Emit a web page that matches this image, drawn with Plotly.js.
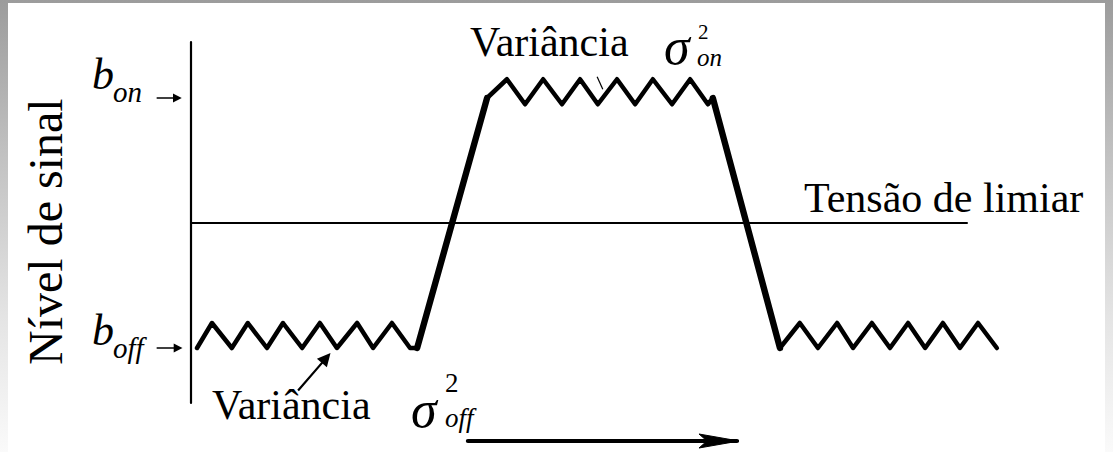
<!DOCTYPE html>
<html>
<head>
<meta charset="utf-8">
<script src="https://cdn.plot.ly/plotly-3.0.1.min.js"></script>
<style>
  html, body { margin: 0; padding: 0; }
  body {
    width: 1113px; height: 452px; overflow: hidden;
    background: linear-gradient(to bottom, #9c9c9c 0%, #c2c2c2 35%, #e4e4e4 70%, #fafafa 100%);
  }
  #chart { width: 1113px; height: 452px; }
</style>
</head>
<body>
<div id="chart"></div>
<script>
// Signal level over time (time in noise periods, level: b_off = 0, b_on = 1)
const lowLeftT   = [0.17, 0.59, 1.15, 1.60, 2.14, 2.59, 3.13, 3.63, 4.11, 4.68, 5.13, 5.66, 6.17, 6.37];
const lowLeftV   = [0, 0.1, 0, 0.1, 0, 0.1, 0, 0.1, 0, 0.1, 0, 0.1, 0, 0];
const riseT      = [6.37, 8.34];
const riseV      = [0, 1.0];
const highT      = [8.34, 8.90, 9.41, 9.92, 10.45, 10.96, 11.46, 12.00, 12.51, 13.01, 13.55, 14.06, 14.56, 14.70];
const highV      = [1.0, 1.075, 0.975, 1.075, 0.975, 1.075, 0.975, 1.075, 0.975, 1.075, 0.975, 1.075, 0.975, 1.0];
const fallT      = [14.70, 16.59];
const fallV      = [1.0, 0];
const lowRightT  = [16.59, 17.15, 17.66, 18.20, 18.65, 19.18, 19.69, 20.20, 20.68, 21.18, 21.66, 22.17, 22.70];
const lowRightV  = [0, 0.1, 0, 0.1, 0, 0.1, 0, 0.1, 0, 0.1, 0, 0.1, 0];

// Reference levels
const bOff = 0;
const bOn = 1;
const threshold = 0.5;
const thresholdEnd = 21.86;

// Level axis (vertical line) extent
const axisT = 0;
const axisLevels = [-0.22, 1.224];

// Time arrow along the bottom
const timeArrowT = [7.8, 15.38];
const timeArrowLevel = -0.372;

// Variance pointer on the low-level noise
const varPointerTail = [2.98, -0.176];
const varPointerTip  = [3.93, -0.02];

// Labels
const yTitle = 'Nível de sinal';
const thresholdLabel = 'Tensão de limiar';
const varianceLabel = 'Variância';

const FONT = 'Liberation Serif, Times New Roman, serif';
const W = 1113, H = 452;

const wave = (t, v, w) => ({
  x: t, y: v, type: 'scatter', mode: 'lines',
  line: { color: '#000', width: w }, hoverinfo: 'skip', showlegend: false
});

const traces = [
  // level axis
  { x: [axisT, axisT], y: axisLevels, type: 'scatter', mode: 'lines',
    line: { color: '#000', width: 2.2 }, hoverinfo: 'skip', showlegend: false },
  // threshold
  { x: [axisT, thresholdEnd], y: [threshold, threshold], type: 'scatter', mode: 'lines',
    line: { color: '#000', width: 2 }, hoverinfo: 'skip', showlegend: false },
  wave(lowLeftT, lowLeftV, 4.5),
  wave(highT, highV, 4.5),
  wave(lowRightT, lowRightV, 4.5),
  wave(riseT, riseV, 6.4),
  wave(fallT, fallV, 6.4),
  // time arrow shaft
  { x: timeArrowT, y: [timeArrowLevel, timeArrowLevel], type: 'scatter', mode: 'lines',
    line: { color: '#000', width: 4.2 }, hoverinfo: 'skip', showlegend: false }
];

// paper position from page pixels
const px = x => x / W;
const py = y => 1 - y / H;

function txt(text, x, y, size, extra) {
  return Object.assign({
    text: text, xref: 'paper', yref: 'paper', x: px(x), y: py(y),
    xanchor: 'center', yanchor: 'middle', showarrow: false,
    font: { family: FONT, size: size, color: '#000' }
  }, extra || {});
}

function pointer(tipT, tipV, tailT, tailV, width, size) {
  return {
    text: '', x: tipT, y: tipV, xref: 'x', yref: 'y',
    ax: tailT, ay: tailV, axref: 'x', ayref: 'y',
    showarrow: true, arrowhead: 2, arrowwidth: width, arrowsize: size, arrowcolor: '#000'
  };
}

const annotations = [
  txt(yTitle, 45, 232, 48, { textangle: -90 }),
  txt(thresholdLabel, 943, 198, 42),

  // b_on / b_off
  txt('<i>b</i>', 103, 75, 44),
  txt('<i>on</i>', 127, 92, 29),
  txt('<i>b</i>', 103, 330, 44),
  txt('<i>off</i>', 130, 348, 29),
  pointer(-0.26, bOn, -1.01, bOn, 1.6, 1.1),
  pointer(-0.24, bOff, -1.01, bOff, 1.6, 1.1),

  // variance of the high level
  txt(varianceLabel, 549, 42, 42),
  txt('<i>σ</i>', 694, 46, 52, { xanchor: 'right' }),
  txt('2', 697, 32, 21, { xanchor: 'left', borderpad: 0 }),
  txt('<i>on</i>', 696, 58, 25, { xanchor: 'left', borderpad: 0 }),

  // variance of the low level
  txt(varianceLabel, 291, 405, 42),
  txt('<i>σ</i>', 441, 409, 52, { xanchor: 'right' }),
  txt('2<br><i>off</i>', 443, 400, 27, { xanchor: 'left', align: 'left' }),
  pointer(varPointerTip[0], varPointerTip[1], varPointerTail[0], varPointerTail[1], 2.2, 1.2)
];

const shapes = [
  // white sheet inside the grey frame
  { type: 'rect', xref: 'paper', yref: 'paper', x0: px(8), x1: px(1105), y0: 0, y1: py(3),
    fillcolor: '#ffffff', line: { width: 0 }, layer: 'below' },
  // head of the time arrow
  { type: 'path', xref: 'x', yref: 'y', xsizemode: 'pixel', ysizemode: 'pixel',
    xanchor: timeArrowT[1], yanchor: timeArrowLevel,
    path: 'M 2 0 L -38 -7 L -30 0 L -38 7 Z',
    fillcolor: '#000', line: { color: '#000', width: 1 } },
  // small tick on the high-level noise
  { type: 'line', xref: 'x', yref: 'y', x0: 11.44, y0: 1.085, x1: 11.6, y1: 1.035,
    line: { color: '#000', width: 1.2 } }
];

const layout = {
  width: W, height: H,
  margin: { l: 0, r: 0, t: 0, b: 0 },
  paper_bgcolor: 'rgba(0,0,0,0)',
  plot_bgcolor: 'rgba(0,0,0,0)',
  xaxis: { range: [-191 / 35.5, (W - 191) / 35.5], visible: false, fixedrange: true },
  yaxis: { range: [-104 / 250, 348 / 250], visible: false, fixedrange: true },
  showlegend: false,
  annotations: annotations,
  shapes: shapes
};

Plotly.newPlot('chart', traces, layout, { displayModeBar: false, staticPlot: true }).then(gd => {
  // rounded corners on the noise zigzags
  gd.querySelectorAll('.scatterlayer path.js-line').forEach(p => {
    p.style.strokeLinejoin = 'round';
    p.style.strokeLinecap = 'round';
  });
});
</script>
</body>
</html>
